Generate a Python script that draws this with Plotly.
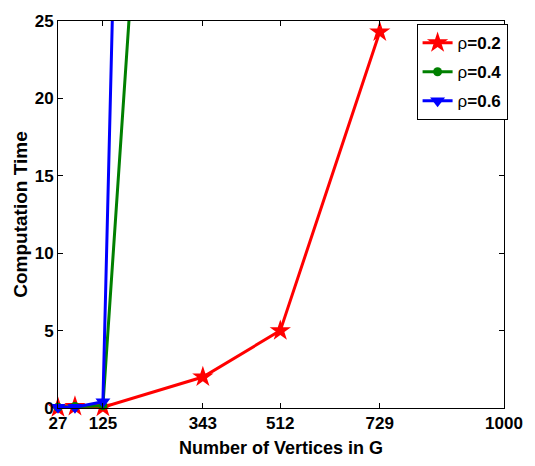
import plotly.graph_objects as go

x_red = [27, 64, 125, 343, 512, 729]
t_red = [0.02, 0.1, 0.05, 2.0, 5.0, 24.3]
x_green = [27, 64, 125, 216]
t_green = [0.05, 0.1, 0.15, 40.0]
x_blue = [27, 64, 125, 216]
t_blue = [0.05, 0.05, 0.4, 110.0]
x_ticks = [27, 125, 343, 512, 729, 1000]
y_ticks = [0, 5, 10, 15, 20, 25]
labels = ["ρ<b>=0.2</b>", "ρ<b>=0.4</b>", "ρ<b>=0.6</b>"]

font = "Liberation Sans, Arial, sans-serif"
fig = go.Figure()
fig.add_trace(go.Scatter(x=x_red, y=t_red, mode="lines+markers", name=labels[0],
                         legendgroup="a", cliponaxis=False,
                         line=dict(color="#ff0000", width=3),
                         marker=dict(symbol="star", size=16, color="#ff0000")))
fig.add_trace(go.Scatter(x=x_green, y=t_green, mode="lines+markers", name=labels[1],
                         legendgroup="b", cliponaxis=False,
                         line=dict(color="#008000", width=3),
                         marker=dict(symbol="circle", size=9, color="#008000")))
fig.add_trace(go.Scatter(x=x_blue, y=t_blue, mode="lines+markers", name=labels[2],
                         legendgroup="c", cliponaxis=False,
                         line=dict(color="#0000ff", width=3),
                         marker=dict(symbol="triangle-down", size=13, color="#0000ff")))

fig.update_layout(
    width=535, height=466,
    margin=dict(l=58, r=29, t=17, b=58),
    plot_bgcolor="white", paper_bgcolor="white",
    font=dict(family=font, color="black", size=17),
    showlegend=True,
    legend=dict(x=0.804, y=0.992, xanchor="left", yanchor="top",
                bordercolor="black", borderwidth=1, bgcolor="white",
                font=dict(size=17), tracegroupgap=4),
    xaxis=dict(range=[27, 1000], tickvals=x_ticks, ticktext=["<b>%d</b>" % v for v in x_ticks],
               showgrid=False, zeroline=False, showline=True, linecolor="black", linewidth=1,
               mirror="ticks", ticks="inside", ticklen=5, tickcolor="black",
               title=dict(text="<b>Number of Vertices in G</b>", font=dict(size=18), standoff=8)),
    yaxis=dict(range=[0, 25], tickvals=y_ticks, ticktext=["<b>%d</b>" % v for v in y_ticks],
               showgrid=False, zeroline=False, showline=True, linecolor="black", linewidth=1,
               mirror="ticks", ticks="inside", ticklen=5, tickcolor="black",
               title=dict(text="<b>Computation Time</b>", font=dict(size=19), standoff=2)),
)
fig.write_html("out.html")
